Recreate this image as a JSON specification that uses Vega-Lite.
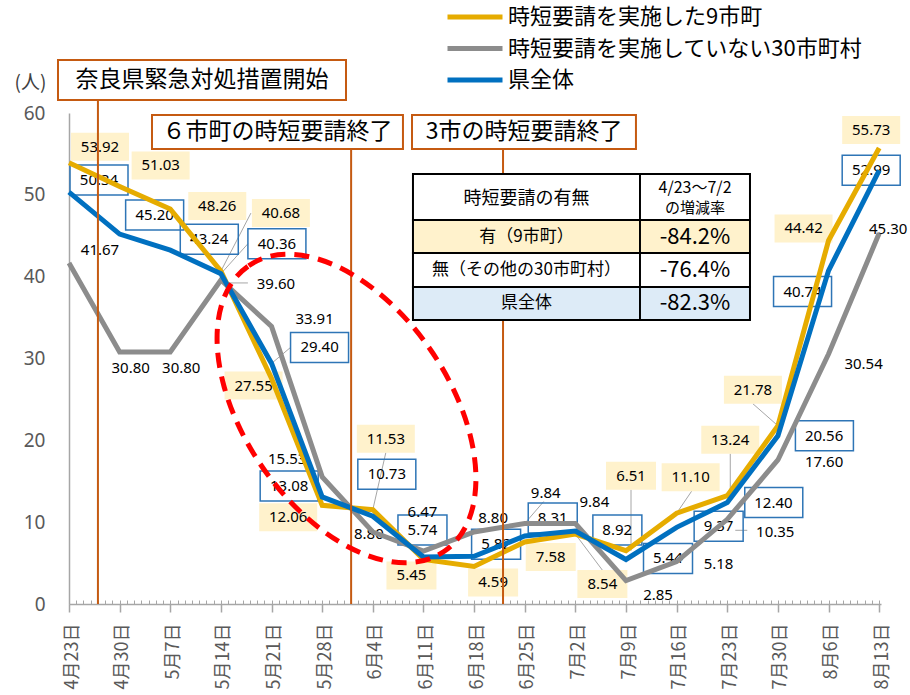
{
"$schema":"https://vega.github.io/schema/vega-lite/v6.json",
"width":812,"height":491,
"autosize":{"type":"none"},
"padding":{"left":69,"top":113,"right":29,"bottom":91},
"background":"white",
"config":{"view":{"stroke":null},"text":{"font":"Noto Sans","fontSize":15,"color":"#000000"}},
"data":{"values":[
{"date":"2021-04-23","series":"時短要請を実施していない30市町村","value":41.67},
{"date":"2021-04-30","series":"時短要請を実施していない30市町村","value":30.8},
{"date":"2021-05-07","series":"時短要請を実施していない30市町村","value":30.8},
{"date":"2021-05-14","series":"時短要請を実施していない30市町村","value":39.6},
{"date":"2021-05-21","series":"時短要請を実施していない30市町村","value":33.91},
{"date":"2021-05-28","series":"時短要請を実施していない30市町村","value":15.53},
{"date":"2021-06-04","series":"時短要請を実施していない30市町村","value":8.8},
{"date":"2021-06-11","series":"時短要請を実施していない30市町村","value":6.47},
{"date":"2021-06-18","series":"時短要請を実施していない30市町村","value":8.8},
{"date":"2021-06-25","series":"時短要請を実施していない30市町村","value":9.84},
{"date":"2021-07-02","series":"時短要請を実施していない30市町村","value":9.84},
{"date":"2021-07-09","series":"時短要請を実施していない30市町村","value":2.85},
{"date":"2021-07-16","series":"時短要請を実施していない30市町村","value":5.18},
{"date":"2021-07-23","series":"時短要請を実施していない30市町村","value":10.35},
{"date":"2021-07-30","series":"時短要請を実施していない30市町村","value":17.6},
{"date":"2021-08-06","series":"時短要請を実施していない30市町村","value":30.54},
{"date":"2021-08-13","series":"時短要請を実施していない30市町村","value":45.3},
{"date":"2021-04-23","series":"時短要請を実施した9市町","value":53.92},
{"date":"2021-04-30","series":"時短要請を実施した9市町","value":51.03},
{"date":"2021-05-07","series":"時短要請を実施した9市町","value":48.26},
{"date":"2021-05-14","series":"時短要請を実施した9市町","value":40.68},
{"date":"2021-05-21","series":"時短要請を実施した9市町","value":27.55},
{"date":"2021-05-28","series":"時短要請を実施した9市町","value":12.06},
{"date":"2021-06-04","series":"時短要請を実施した9市町","value":11.53},
{"date":"2021-06-11","series":"時短要請を実施した9市町","value":5.45},
{"date":"2021-06-18","series":"時短要請を実施した9市町","value":4.59},
{"date":"2021-06-25","series":"時短要請を実施した9市町","value":7.58},
{"date":"2021-07-02","series":"時短要請を実施した9市町","value":8.54},
{"date":"2021-07-09","series":"時短要請を実施した9市町","value":6.51},
{"date":"2021-07-16","series":"時短要請を実施した9市町","value":11.1},
{"date":"2021-07-23","series":"時短要請を実施した9市町","value":13.24},
{"date":"2021-07-30","series":"時短要請を実施した9市町","value":21.78},
{"date":"2021-08-06","series":"時短要請を実施した9市町","value":44.42},
{"date":"2021-08-13","series":"時短要請を実施した9市町","value":55.73},
{"date":"2021-04-23","series":"県全体","value":50.34},
{"date":"2021-04-30","series":"県全体","value":45.2},
{"date":"2021-05-07","series":"県全体","value":43.24},
{"date":"2021-05-14","series":"県全体","value":40.36},
{"date":"2021-05-21","series":"県全体","value":29.4},
{"date":"2021-05-28","series":"県全体","value":13.08},
{"date":"2021-06-04","series":"県全体","value":10.73},
{"date":"2021-06-11","series":"県全体","value":5.74},
{"date":"2021-06-18","series":"県全体","value":5.82},
{"date":"2021-06-25","series":"県全体","value":8.31},
{"date":"2021-07-02","series":"県全体","value":8.92},
{"date":"2021-07-09","series":"県全体","value":5.44},
{"date":"2021-07-16","series":"県全体","value":9.37},
{"date":"2021-07-23","series":"県全体","value":12.4},
{"date":"2021-07-30","series":"県全体","value":20.56},
{"date":"2021-08-06","series":"県全体","value":40.74},
{"date":"2021-08-13","series":"県全体","value":52.99}
]},
"resolve":{"axis":{"x":"independent"}},
"layer":[
{"mark":{"type":"rule","opacity":0},"encoding":{"x":{"field":"date","type":"temporal","axis":{"orient":"bottom","tickCount":{"interval":"day","step":1},"tickSize":-4,"tickColor":"#A6A6A6","tickWidth":1,"labels":false,"domain":false,"grid":false,"title":null}}}},
{"layer":[
{"encoding":{
"x":{"field":"date","type":"temporal","scale":{"type":"utc","domain":[{"year":2021,"month":4,"date":23,"utc":true},{"year":2021,"month":8,"date":13,"hours":6,"utc":true}]},
"axis":{"orient":"bottom","values":[{"year":2021,"month":4,"date":23,"utc":true},{"year":2021,"month":4,"date":30,"utc":true},{"year":2021,"month":5,"date":7,"utc":true},{"year":2021,"month":5,"date":14,"utc":true},{"year":2021,"month":5,"date":21,"utc":true},{"year":2021,"month":5,"date":28,"utc":true},{"year":2021,"month":6,"date":4,"utc":true},{"year":2021,"month":6,"date":11,"utc":true},{"year":2021,"month":6,"date":18,"utc":true},{"year":2021,"month":6,"date":25,"utc":true},{"year":2021,"month":7,"date":2,"utc":true},{"year":2021,"month":7,"date":9,"utc":true},{"year":2021,"month":7,"date":16,"utc":true},{"year":2021,"month":7,"date":23,"utc":true},{"year":2021,"month":7,"date":30,"utc":true},{"year":2021,"month":8,"date":6,"utc":true},{"year":2021,"month":8,"date":13,"utc":true}],
"labelExpr":"(utcmonth(datum.value)+1)+'月'+utcdate(datum.value)+'日'","labelAngle":-90,"labelFont":"Noto Sans CJK JP","labelFontSize":18,"labelColor":"#595959","labelPadding":11,"labelOffset":3,"labelOverlap":false,"labelFlush":false,"labelBound":false,"tickSize":8,"tickColor":"#A6A6A6","tickWidth":1.5,"domainColor":"#A6A6A6","domainWidth":1.5,"grid":false,"title":null}},
"y":{"field":"value","type":"quantitative","scale":{"domain":[0,60],"nice":false},
"axis":{"values":[0,10,20,30,40,50,60],"ticks":false,"labelPadding":24,"labelFont":"Noto Sans","labelFontSize":19,"labelColor":"#595959","domainColor":"#A6A6A6","domainWidth":1.5,"grid":false,"title":"(人)","titleAngle":0,"titleX":-39,"titleY":-31,"titleAlign":"center","titleBaseline":"middle","titleFont":"Noto Sans CJK JP","titleFontSize":19,"titleFontWeight":"normal","titleColor":"#404040"}}
},
"layer":[
{"transform":[{"filter":"datum.value==40.68"}],"mark":{"type":"rule","color":"#A6A6A6","strokeWidth":1,"x2Offset":30,"y2Offset":-58},"encoding":{"x2":{"field":"date"},"y2":{"field":"value"}}},
{"transform":[{"filter":"datum.value==40.36"}],"mark":{"type":"rule","color":"#A6A6A6","strokeWidth":1,"x2Offset":27,"y2Offset":-30},"encoding":{"x2":{"field":"date"},"y2":{"field":"value"}}},
{"transform":[{"filter":"datum.value==39.6"}],"mark":{"type":"rule","color":"#A6A6A6","strokeWidth":1,"xOffset":8,"yOffset":3,"x2Offset":27,"y2Offset":3},"encoding":{"x2":{"field":"date"},"y2":{"field":"value"}}},
{"transform":[{"filter":"datum.value==29.4"}],"mark":{"type":"rule","color":"#A6A6A6","strokeWidth":1,"x2Offset":19,"y2Offset":-16},"encoding":{"x2":{"field":"date"},"y2":{"field":"value"}}},
{"transform":[{"filter":"datum.value==11.53"}],"mark":{"type":"rule","color":"#A6A6A6","strokeWidth":1,"x2Offset":13,"y2Offset":-57},"encoding":{"x2":{"field":"date"},"y2":{"field":"value"}}},
{"transform":[{"filter":"datum.value==8.54"}],"mark":{"type":"rule","color":"#A6A6A6","strokeWidth":1,"x2Offset":27,"y2Offset":36},"encoding":{"x2":{"field":"date"},"y2":{"field":"value"}}},
{"transform":[{"filter":"datum.value==6.51"}],"mark":{"type":"rule","color":"#A6A6A6","strokeWidth":1,"xOffset":5,"x2Offset":5,"y2Offset":-61},"encoding":{"x2":{"field":"date"},"y2":{"field":"value"}}},
{"transform":[{"filter":"datum.value==11.1"}],"mark":{"type":"rule","color":"#A6A6A6","strokeWidth":1,"x2Offset":15,"y2Offset":-22},"encoding":{"x2":{"field":"date"},"y2":{"field":"value"}}},
{"transform":[{"filter":"datum.value==13.24"}],"mark":{"type":"rule","color":"#A6A6A6","strokeWidth":1,"xOffset":3,"x2Offset":3,"y2Offset":-42},"encoding":{"x2":{"field":"date"},"y2":{"field":"value"}}},
{"transform":[{"filter":"datum.value==21.78"}],"mark":{"type":"rule","color":"#A6A6A6","strokeWidth":1,"x2Offset":-25,"y2Offset":-22},"encoding":{"x2":{"field":"date"},"y2":{"field":"value"}}},
{"transform":[{"filter":"datum.value==9.84&&utcdate(datum.date)==25"}],"mark":{"type":"rule","color":"#A6A6A6","strokeWidth":1,"x2Offset":19,"y2Offset":-22},"encoding":{"x2":{"field":"date"},"y2":{"field":"value"}}},
{"transform":[{"filter":"datum.value==10.35"}],"mark":{"type":"rule","color":"#A6A6A6","strokeWidth":1,"xOffset":8,"yOffset":11,"x2Offset":20,"y2Offset":11},"encoding":{"x2":{"field":"date"},"y2":{"field":"value"}}},

{"transform":[{"filter":"datum.value==53.92"}],"layer":[{"mark":{"type":"rect","fill":"#FFF2CC","xOffset":2,"x2Offset":60,"yOffset":-30,"y2Offset":-2},"encoding":{"x2":{"field":"date"},"y2":{"field":"value"}}},{"mark":{"type":"text","dx":31,"dy":-16},"encoding":{"text":{"field":"value","type":"quantitative","format":".2f"}}}]},
{"transform":[{"filter":"datum.value==51.03"}],"layer":[{"mark":{"type":"rect","fill":"#FFF2CC","xOffset":12,"x2Offset":70,"yOffset":-35,"y2Offset":-7},"encoding":{"x2":{"field":"date"},"y2":{"field":"value"}}},{"mark":{"type":"text","dx":41,"dy":-21},"encoding":{"text":{"field":"value","type":"quantitative","format":".2f"}}}]},
{"transform":[{"filter":"datum.value==48.26"}],"layer":[{"mark":{"type":"rect","fill":"#FFF2CC","xOffset":18,"x2Offset":76,"yOffset":-17,"y2Offset":11},"encoding":{"x2":{"field":"date"},"y2":{"field":"value"}}},{"mark":{"type":"text","dx":47,"dy":-3},"encoding":{"text":{"field":"value","type":"quantitative","format":".2f"}}}]},
{"transform":[{"filter":"datum.value==40.68"}],"layer":[{"mark":{"type":"rect","fill":"#FFF2CC","xOffset":31,"x2Offset":89,"yOffset":-72,"y2Offset":-44},"encoding":{"x2":{"field":"date"},"y2":{"field":"value"}}},{"mark":{"type":"text","dx":60,"dy":-58},"encoding":{"text":{"field":"value","type":"quantitative","format":".2f"}}}]},
{"transform":[{"filter":"datum.value==27.55"}],"layer":[{"mark":{"type":"rect","fill":"#FFF2CC","xOffset":-47,"x2Offset":11,"yOffset":-7,"y2Offset":21},"encoding":{"x2":{"field":"date"},"y2":{"field":"value"}}},{"mark":{"type":"text","dx":-18,"dy":7},"encoding":{"text":{"field":"value","type":"quantitative","format":".2f"}}}]},
{"transform":[{"filter":"datum.value==12.06"}],"layer":[{"mark":{"type":"rect","fill":"#FFF2CC","xOffset":-63,"x2Offset":-5,"yOffset":-2,"y2Offset":26},"encoding":{"x2":{"field":"date"},"y2":{"field":"value"}}},{"mark":{"type":"text","dx":-34,"dy":12},"encoding":{"text":{"field":"value","type":"quantitative","format":".2f"}}}]},
{"transform":[{"filter":"datum.value==11.53"}],"layer":[{"mark":{"type":"rect","fill":"#FFF2CC","xOffset":-16,"x2Offset":42,"yOffset":-85,"y2Offset":-57},"encoding":{"x2":{"field":"date"},"y2":{"field":"value"}}},{"mark":{"type":"text","dx":13,"dy":-71},"encoding":{"text":{"field":"value","type":"quantitative","format":".2f"}}}]},
{"transform":[{"filter":"datum.value==5.45"}],"layer":[{"mark":{"type":"rect","fill":"#FFF2CC","xOffset":-37,"x2Offset":13,"yOffset":2,"y2Offset":30},"encoding":{"x2":{"field":"date"},"y2":{"field":"value"}}},{"mark":{"type":"text","dx":-12,"dy":16},"encoding":{"text":{"field":"value","type":"quantitative","format":".2f"}}}]},
{"transform":[{"filter":"datum.value==4.59"}],"layer":[{"mark":{"type":"rect","fill":"#FFF2CC","xOffset":-6,"x2Offset":44,"yOffset":2,"y2Offset":30},"encoding":{"x2":{"field":"date"},"y2":{"field":"value"}}},{"mark":{"type":"text","dx":19,"dy":16},"encoding":{"text":{"field":"value","type":"quantitative","format":".2f"}}}]},
{"transform":[{"filter":"datum.value==7.58"}],"layer":[{"mark":{"type":"rect","fill":"#FFF2CC","xOffset":1,"x2Offset":51,"yOffset":1,"y2Offset":29},"encoding":{"x2":{"field":"date"},"y2":{"field":"value"}}},{"mark":{"type":"text","dx":26,"dy":15},"encoding":{"text":{"field":"value","type":"quantitative","format":".2f"}}}]},
{"transform":[{"filter":"datum.value==8.54"}],"layer":[{"mark":{"type":"rect","fill":"#FFF2CC","xOffset":2,"x2Offset":52,"yOffset":36,"y2Offset":64},"encoding":{"x2":{"field":"date"},"y2":{"field":"value"}}},{"mark":{"type":"text","dx":27,"dy":50},"encoding":{"text":{"field":"value","type":"quantitative","format":".2f"}}}]},
{"transform":[{"filter":"datum.value==6.51"}],"layer":[{"mark":{"type":"rect","fill":"#FFF2CC","xOffset":-20,"x2Offset":30,"yOffset":-89,"y2Offset":-61},"encoding":{"x2":{"field":"date"},"y2":{"field":"value"}}},{"mark":{"type":"text","dx":5,"dy":-75},"encoding":{"text":{"field":"value","type":"quantitative","format":".2f"}}}]},
{"transform":[{"filter":"datum.value==11.1"}],"layer":[{"mark":{"type":"rect","fill":"#FFF2CC","xOffset":-15,"x2Offset":43,"yOffset":-50,"y2Offset":-22},"encoding":{"x2":{"field":"date"},"y2":{"field":"value"}}},{"mark":{"type":"text","dx":14,"dy":-36},"encoding":{"text":{"field":"value","type":"quantitative","format":".2f"}}}]},
{"transform":[{"filter":"datum.value==13.24"}],"layer":[{"mark":{"type":"rect","fill":"#FFF2CC","xOffset":-26,"x2Offset":32,"yOffset":-70,"y2Offset":-42},"encoding":{"x2":{"field":"date"},"y2":{"field":"value"}}},{"mark":{"type":"text","dx":3,"dy":-56},"encoding":{"text":{"field":"value","type":"quantitative","format":".2f"}}}]},
{"transform":[{"filter":"datum.value==21.78"}],"layer":[{"mark":{"type":"rect","fill":"#FFF2CC","xOffset":-54,"x2Offset":4,"yOffset":-50,"y2Offset":-22},"encoding":{"x2":{"field":"date"},"y2":{"field":"value"}}},{"mark":{"type":"text","dx":-25,"dy":-36},"encoding":{"text":{"field":"value","type":"quantitative","format":".2f"}}}]},
{"transform":[{"filter":"datum.value==44.42"}],"layer":[{"mark":{"type":"rect","fill":"#FFF2CC","xOffset":-54,"x2Offset":4,"yOffset":-26,"y2Offset":2},"encoding":{"x2":{"field":"date"},"y2":{"field":"value"}}},{"mark":{"type":"text","dx":-25,"dy":-12},"encoding":{"text":{"field":"value","type":"quantitative","format":".2f"}}}]},
{"transform":[{"filter":"datum.value==55.73"}],"layer":[{"mark":{"type":"rect","fill":"#FFF2CC","xOffset":-37,"x2Offset":21,"yOffset":-32,"y2Offset":-4},"encoding":{"x2":{"field":"date"},"y2":{"field":"value"}}},{"mark":{"type":"text","dx":-8,"dy":-18},"encoding":{"text":{"field":"value","type":"quantitative","format":".2f"}}}]},

{"transform":[{"filter":"datum.value==50.34"}],"layer":[{"mark":{"type":"rect","filled":false,"stroke":"#2E75B6","strokeWidth":1.5,"xOffset":1,"x2Offset":59,"yOffset":-27,"y2Offset":3},"encoding":{"x2":{"field":"date"},"y2":{"field":"value"}}},{"mark":{"type":"text","dx":30,"dy":-12},"encoding":{"text":{"field":"value","type":"quantitative","format":".2f"}}}]},
{"transform":[{"filter":"datum.value==45.2"}],"layer":[{"mark":{"type":"rect","filled":false,"stroke":"#2E75B6","strokeWidth":1.5,"xOffset":6,"x2Offset":64,"yOffset":-34,"y2Offset":-4},"encoding":{"x2":{"field":"date"},"y2":{"field":"value"}}},{"mark":{"type":"text","dx":35,"dy":-19},"encoding":{"text":{"field":"value","type":"quantitative","format":".2f"}}}]},
{"transform":[{"filter":"datum.value==43.24"}],"layer":[{"mark":{"type":"rect","filled":false,"stroke":"#2E75B6","strokeWidth":1.5,"xOffset":10,"x2Offset":68,"yOffset":-26,"y2Offset":4},"encoding":{"x2":{"field":"date"},"y2":{"field":"value"}}},{"mark":{"type":"text","dx":39,"dy":-11},"encoding":{"text":{"field":"value","type":"quantitative","format":".2f"}}}]},
{"transform":[{"filter":"datum.value==40.36"}],"layer":[{"mark":{"type":"rect","filled":false,"stroke":"#2E75B6","strokeWidth":1.5,"xOffset":27,"x2Offset":85,"yOffset":-45,"y2Offset":-15},"encoding":{"x2":{"field":"date"},"y2":{"field":"value"}}},{"mark":{"type":"text","dx":56,"dy":-30},"encoding":{"text":{"field":"value","type":"quantitative","format":".2f"}}}]},
{"transform":[{"filter":"datum.value==29.4"}],"layer":[{"mark":{"type":"rect","filled":false,"stroke":"#2E75B6","strokeWidth":1.5,"xOffset":19,"x2Offset":77,"yOffset":-31,"y2Offset":-1},"encoding":{"x2":{"field":"date"},"y2":{"field":"value"}}},{"mark":{"type":"text","dx":48,"dy":-16},"encoding":{"text":{"field":"value","type":"quantitative","format":".2f"}}}]},
{"transform":[{"filter":"datum.value==13.08"}],"layer":[{"mark":{"type":"rect","filled":false,"stroke":"#2E75B6","strokeWidth":1.5,"xOffset":-62,"x2Offset":-4,"yOffset":-26,"y2Offset":4},"encoding":{"x2":{"field":"date"},"y2":{"field":"value"}}},{"mark":{"type":"text","dx":-33,"dy":-11},"encoding":{"text":{"field":"value","type":"quantitative","format":".2f"}}}]},
{"transform":[{"filter":"datum.value==10.73"}],"layer":[{"mark":{"type":"rect","filled":false,"stroke":"#2E75B6","strokeWidth":1.5,"xOffset":-15,"x2Offset":43,"yOffset":-57,"y2Offset":-27},"encoding":{"x2":{"field":"date"},"y2":{"field":"value"}}},{"mark":{"type":"text","dx":14,"dy":-42},"encoding":{"text":{"field":"value","type":"quantitative","format":".2f"}}}]},
{"transform":[{"filter":"datum.value==5.74"}],"layer":[{"mark":{"type":"rect","filled":false,"stroke":"#2E75B6","strokeWidth":1.5,"xOffset":-25.5,"x2Offset":23.5,"yOffset":-42,"y2Offset":-12},"encoding":{"x2":{"field":"date"},"y2":{"field":"value"}}},{"mark":{"type":"text","dx":-1,"dy":-27},"encoding":{"text":{"field":"value","type":"quantitative","format":".2f"}}}]},
{"transform":[{"filter":"datum.value==5.82"}],"layer":[{"mark":{"type":"rect","filled":false,"stroke":"#2E75B6","strokeWidth":1.5,"xOffset":-2.5,"x2Offset":46.5,"yOffset":-27,"y2Offset":3},"encoding":{"x2":{"field":"date"},"y2":{"field":"value"}}},{"mark":{"type":"text","dx":22,"dy":-12},"encoding":{"text":{"field":"value","type":"quantitative","format":".2f"}}}]},
{"transform":[{"filter":"datum.value==8.31"}],"layer":[{"mark":{"type":"rect","filled":false,"stroke":"#2E75B6","strokeWidth":1.5,"xOffset":3.5,"x2Offset":52.5,"yOffset":-33,"y2Offset":-3},"encoding":{"x2":{"field":"date"},"y2":{"field":"value"}}},{"mark":{"type":"text","dx":28,"dy":-18},"encoding":{"text":{"field":"value","type":"quantitative","format":".2f"}}}]},
{"transform":[{"filter":{"field":"value","oneOf":[8.92,5.44,9.37]}}],"layer":[{"mark":{"type":"rect","filled":false,"stroke":"#2E75B6","strokeWidth":1.5,"xOffset":17.5,"x2Offset":66.5,"yOffset":-16,"y2Offset":14},"encoding":{"x2":{"field":"date"},"y2":{"field":"value"}}},{"mark":{"type":"text","align":"left","dx":27,"dy":-1},"encoding":{"text":{"field":"value","type":"quantitative","format":".2f"}}}]},
{"transform":[{"filter":{"field":"value","oneOf":[12.4,20.56]}}],"layer":[{"mark":{"type":"rect","filled":false,"stroke":"#2E75B6","strokeWidth":1.5,"xOffset":17.5,"x2Offset":75.5,"yOffset":-15,"y2Offset":15},"encoding":{"x2":{"field":"date"},"y2":{"field":"value"}}},{"mark":{"type":"text","align":"left","dx":27,"dy":0},"encoding":{"text":{"field":"value","type":"quantitative","format":".2f"}}}]},
{"transform":[{"filter":"datum.value==40.74"}],"layer":[{"mark":{"type":"rect","filled":false,"stroke":"#2E75B6","strokeWidth":1.5,"xOffset":-55,"x2Offset":3,"yOffset":6,"y2Offset":36},"encoding":{"x2":{"field":"date"},"y2":{"field":"value"}}},{"mark":{"type":"text","dx":-26,"dy":21},"encoding":{"text":{"field":"value","type":"quantitative","format":".2f"}}}]},
{"transform":[{"filter":"datum.value==52.99"}],"layer":[{"mark":{"type":"rect","filled":false,"stroke":"#2E75B6","strokeWidth":1.5,"xOffset":-37,"x2Offset":21,"yOffset":-15,"y2Offset":15},"encoding":{"x2":{"field":"date"},"y2":{"field":"value"}}},{"mark":{"type":"text","dx":-8,"dy":0},"encoding":{"text":{"field":"value","type":"quantitative","format":".2f"}}}]},

{"transform":[{"filter":"datum.value==41.67"}],"mark":{"type":"text","dx":31,"dy":-13},"encoding":{"text":{"field":"value","type":"quantitative","format":".2f"}}},
{"transform":[{"filter":"datum.value==30.8"}],"mark":{"type":"text","dx":11,"dy":16},"encoding":{"text":{"field":"value","type":"quantitative","format":".2f"}}},
{"transform":[{"filter":"datum.value==39.6"}],"mark":{"type":"text","dx":55,"dy":4},"encoding":{"text":{"field":"value","type":"quantitative","format":".2f"}}},
{"transform":[{"filter":"datum.value==33.91"}],"mark":{"type":"text","dx":43,"dy":-8},"encoding":{"text":{"field":"value","type":"quantitative","format":".2f"}}},
{"transform":[{"filter":"datum.value==15.53"}],"mark":{"type":"text","dx":-35,"dy":-18},"encoding":{"text":{"field":"value","type":"quantitative","format":".2f"}}},
{"transform":[{"filter":"datum.value==8.8&&utcdate(datum.date)==4"}],"mark":{"type":"text","dx":-4,"dy":2},"encoding":{"text":{"field":"value","type":"quantitative","format":".2f"}}},
{"transform":[{"filter":"datum.value==6.47"}],"mark":{"type":"text","dx":-1,"dy":-39},"encoding":{"text":{"field":"value","type":"quantitative","format":".2f"}}},
{"transform":[{"filter":"datum.value==8.8&&utcdate(datum.date)==18"}],"mark":{"type":"text","dx":19,"dy":-14},"encoding":{"text":{"field":"value","type":"quantitative","format":".2f"}}},
{"transform":[{"filter":"datum.value==9.84&&utcdate(datum.date)==25"}],"mark":{"type":"text","dx":21,"dy":-30},"encoding":{"text":{"field":"value","type":"quantitative","format":".2f"}}},
{"transform":[{"filter":"datum.value==9.84&&utcdate(datum.date)==2"}],"mark":{"type":"text","dx":19,"dy":-21},"encoding":{"text":{"field":"value","type":"quantitative","format":".2f"}}},
{"transform":[{"filter":"datum.value==2.85"}],"mark":{"type":"text","dx":32,"dy":14},"encoding":{"text":{"field":"value","type":"quantitative","format":".2f"}}},
{"transform":[{"filter":{"field":"value","oneOf":[5.18,17.6]}}],"mark":{"type":"text","align":"left","dx":27,"dy":2},"encoding":{"text":{"field":"value","type":"quantitative","format":".2f"}}},
{"transform":[{"filter":"datum.value==10.35"}],"mark":{"type":"text","dx":48,"dy":13},"encoding":{"text":{"field":"value","type":"quantitative","format":".2f"}}},
{"transform":[{"filter":"datum.value==30.54"}],"mark":{"type":"text","dx":35,"dy":10},"encoding":{"text":{"field":"value","type":"quantitative","format":".2f"}}},
{"transform":[{"filter":"datum.value==45.3"}],"mark":{"type":"text","dx":9,"dy":-4},"encoding":{"text":{"field":"value","type":"quantitative","format":".2f"}}},

{"mark":{"type":"line","strokeWidth":5},"encoding":{"color":{"field":"series","type":"nominal","scale":{"domain":["時短要請を実施した9市町","時短要請を実施していない30市町村","県全体"],"range":["#E6AC00","#8C8C8C","#0070C0"]},"legend":{"orient":"none","legendX":376,"legendY":-107,"title":null,"symbolType":"stroke","symbolStrokeWidth":5,"symbolSize":3025,"clipHeight":22,"rowPadding":9.5,"labelFontSize":22,"labelFont":"Noto Sans CJK JP","labelColor":"#000000","labelOffset":3,"padding":0,"labelLimit":500}}}}
]},

{"data":{"values":[{}]},"mark":{"type":"rule","color":"#C55A11","strokeWidth":2},"encoding":{"x":{"datum":{"year":2021,"month":4,"date":27,"utc":true},"type":"temporal"},"y":{"datum":61.59,"type":"quantitative"},"y2":{"datum":0}}},
{"data":{"values":[{}]},"mark":{"type":"rule","color":"#C55A11","strokeWidth":2},"encoding":{"x":{"datum":{"year":2021,"month":6,"date":1,"utc":true},"type":"temporal"},"y":{"datum":55.6,"type":"quantitative"},"y2":{"datum":0}}},
{"data":{"values":[{}]},"mark":{"type":"rule","color":"#C55A11","strokeWidth":2},"encoding":{"x":{"datum":{"year":2021,"month":6,"date":22,"utc":true},"type":"temporal"},"y":{"datum":55.6,"type":"quantitative"},"y2":{"datum":0}}},

{"data":{"values":[{}]},"mark":{"type":"rect","fill":"white","stroke":"#C55A11","strokeWidth":2},"encoding":{"x":{"datum":{"year":2021,"month":4,"date":21,"hours":11,"minutes":30,"utc":true},"type":"temporal"},"x2":{"datum":{"year":2021,"month":5,"date":31,"hours":7,"utc":true}},"y":{"datum":66.48,"type":"quantitative"},"y2":{"datum":61.59}}},
{"data":{"values":[{}]},"mark":{"type":"text","text":"奈良県緊急対処措置開始","font":"Noto Sans CJK JP","fontSize":23},"encoding":{"x":{"datum":{"year":2021,"month":5,"date":11,"hours":9,"minutes":20,"utc":true},"type":"temporal"},"y":{"datum":64.03,"type":"quantitative"}}},
{"data":{"values":[{}]},"mark":{"type":"rect","fill":"white","stroke":"#C55A11","strokeWidth":2},"encoding":{"x":{"datum":{"year":2021,"month":5,"date":4,"hours":11,"minutes":20,"utc":true},"type":"temporal"},"x2":{"datum":{"year":2021,"month":6,"date":8,"hours":4,"utc":true}},"y":{"datum":59.76,"type":"quantitative"},"y2":{"datum":55.6}}},
{"data":{"values":[{}]},"mark":{"type":"text","text":"６市町の時短要請終了","font":"Noto Sans CJK JP","fontSize":23},"encoding":{"x":{"datum":{"year":2021,"month":5,"date":21,"hours":19,"minutes":40,"utc":true},"type":"temporal"},"y":{"datum":57.68,"type":"quantitative"}}},
{"data":{"values":[{}]},"mark":{"type":"rect","fill":"white","stroke":"#C55A11","strokeWidth":2},"encoding":{"x":{"datum":{"year":2021,"month":6,"date":9,"hours":10,"utc":true},"type":"temporal"},"x2":{"datum":{"year":2021,"month":7,"date":10,"hours":9,"utc":true}},"y":{"datum":59.76,"type":"quantitative"},"y2":{"datum":55.6}}},
{"data":{"values":[{}]},"mark":{"type":"text","text":"3市の時短要請終了","font":"Noto Sans CJK JP","fontSize":23},"encoding":{"x":{"datum":{"year":2021,"month":6,"date":24,"hours":21,"minutes":35,"utc":true},"type":"temporal"},"y":{"datum":57.68,"type":"quantitative"}}},

{"data":{"values":[{}]},"mark":{"type":"rect","fill":"white","stroke":"#000000","strokeWidth":2},"encoding":{"x":{"datum":{"year":2021,"month":6,"date":9,"hours":13,"minutes":12,"utc":true},"type":"temporal"},"x2":{"datum":{"year":2021,"month":7,"date":26,"hours":3,"minutes":20,"utc":true}},"y":{"datum":52.55,"type":"quantitative"},"y2":{"datum":46.93}}},
{"data":{"values":[{}]},"mark":{"type":"rect","fill":"#FFF2CC","stroke":"#000000","strokeWidth":2},"encoding":{"x":{"datum":{"year":2021,"month":6,"date":9,"hours":13,"minutes":12,"utc":true},"type":"temporal"},"x2":{"datum":{"year":2021,"month":7,"date":26,"hours":3,"minutes":20,"utc":true}},"y":{"datum":46.93,"type":"quantitative"},"y2":{"datum":42.89}}},
{"data":{"values":[{}]},"mark":{"type":"rect","fill":"white","stroke":"#000000","strokeWidth":2},"encoding":{"x":{"datum":{"year":2021,"month":6,"date":9,"hours":13,"minutes":12,"utc":true},"type":"temporal"},"x2":{"datum":{"year":2021,"month":7,"date":26,"hours":3,"minutes":20,"utc":true}},"y":{"datum":42.89,"type":"quantitative"},"y2":{"datum":38.74}}},
{"data":{"values":[{}]},"mark":{"type":"rect","fill":"#DDEBF7","stroke":"#000000","strokeWidth":2},"encoding":{"x":{"datum":{"year":2021,"month":6,"date":9,"hours":13,"minutes":12,"utc":true},"type":"temporal"},"x2":{"datum":{"year":2021,"month":7,"date":26,"hours":3,"minutes":20,"utc":true}},"y":{"datum":38.74,"type":"quantitative"},"y2":{"datum":34.7}}},
{"data":{"values":[{}]},"mark":{"type":"rule","color":"#000000","strokeWidth":2},"encoding":{"x":{"datum":{"year":2021,"month":7,"date":10,"hours":22,"minutes":20,"utc":true},"type":"temporal"},"y":{"datum":52.55,"type":"quantitative"},"y2":{"datum":34.7}}},
{"data":{"values":[{}]},"mark":{"type":"text","text":"時短要請の有無","font":"Noto Sans CJK JP","fontSize":18},"encoding":{"x":{"datum":{"year":2021,"month":6,"date":25,"hours":5,"minutes":50,"utc":true},"type":"temporal"},"y":{"datum":49.49,"type":"quantitative"}}},
{"data":{"values":[{}]},"mark":{"type":"text","text":"4/23～7/2","font":"Noto Sans CJK JP","fontSize":16},"encoding":{"x":{"datum":{"year":2021,"month":7,"date":18,"hours":13,"utc":true},"type":"temporal"},"y":{"datum":50.83,"type":"quantitative"}}},
{"data":{"values":[{}]},"mark":{"type":"text","text":"の増減率","font":"Noto Sans CJK JP","fontSize":15},"encoding":{"x":{"datum":{"year":2021,"month":7,"date":18,"hours":13,"utc":true},"type":"temporal"},"y":{"datum":48.39,"type":"quantitative"}}},
{"data":{"values":[{}]},"mark":{"type":"text","text":"有（9市町）","font":"Noto Sans CJK JP","fontSize":17},"encoding":{"x":{"datum":{"year":2021,"month":6,"date":25,"hours":5,"minutes":50,"utc":true},"type":"temporal"},"y":{"datum":44.89,"type":"quantitative"}}},
{"data":{"values":[{}]},"mark":{"type":"text","text":"-84.2%","font":"Noto Sans CJK JP","fontSize":22},"encoding":{"x":{"datum":{"year":2021,"month":7,"date":18,"hours":13,"utc":true},"type":"temporal"},"y":{"datum":44.89,"type":"quantitative"}}},
{"data":{"values":[{}]},"mark":{"type":"text","text":"無（その他の30市町村）","font":"Noto Sans CJK JP","fontSize":17},"encoding":{"x":{"datum":{"year":2021,"month":6,"date":25,"hours":5,"minutes":50,"utc":true},"type":"temporal"},"y":{"datum":40.82,"type":"quantitative"}}},
{"data":{"values":[{}]},"mark":{"type":"text","text":"-76.4%","font":"Noto Sans CJK JP","fontSize":22},"encoding":{"x":{"datum":{"year":2021,"month":7,"date":18,"hours":13,"utc":true},"type":"temporal"},"y":{"datum":40.82,"type":"quantitative"}}},
{"data":{"values":[{}]},"mark":{"type":"text","text":"県全体","font":"Noto Sans CJK JP","fontSize":17},"encoding":{"x":{"datum":{"year":2021,"month":6,"date":25,"hours":5,"minutes":50,"utc":true},"type":"temporal"},"y":{"datum":36.73,"type":"quantitative"}}},
{"data":{"values":[{}]},"mark":{"type":"text","text":"-82.3%","font":"Noto Sans CJK JP","fontSize":22},"encoding":{"x":{"datum":{"year":2021,"month":7,"date":18,"hours":13,"utc":true},"type":"temporal"},"y":{"datum":36.73,"type":"quantitative"}}},

{"data":{"values":[{}]},"mark":{"type":"point","shape":"M -0.978 -1.427 A 1.73 1.02 55.6 1 1 0.978 1.427 A 1.73 1.02 55.6 1 1 -0.978 -1.427 Z","size":40000,"filled":false,"stroke":"#FF0000","strokeWidth":5,"strokeDash":[15,9],"opacity":1},"encoding":{"x":{"datum":{"year":2021,"month":5,"date":31,"hours":8,"minutes":40,"utc":true},"type":"temporal"},"y":{"datum":23.89,"type":"quantitative"}}}
]}
]
}
